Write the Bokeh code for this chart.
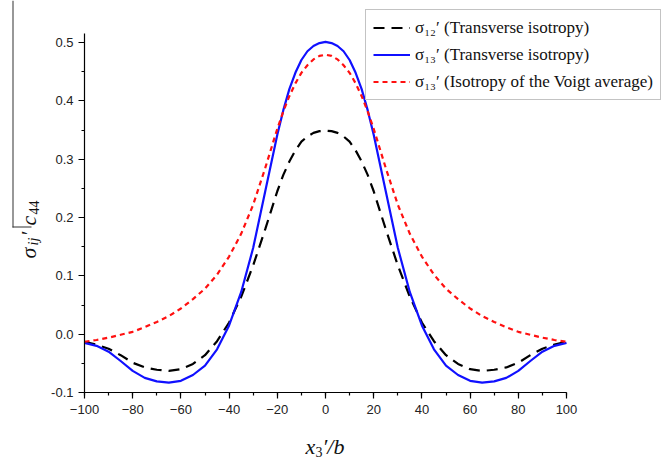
import math
from bokeh.plotting import figure
from bokeh.models import (Range1d, SingleIntervalTicker, PrintfTickFormatter,
                          Legend, LegendItem, Label, BoxAnnotation)
from bokeh.embed import file_html
from bokeh.resources import INLINE

# ---------------- data ----------------
x_vals = [-100, -95, -90, -85, -80, -75, -70, -65, -60, -55, -50, -45, -40, -35, -30,
          -25, -20, -17.5, -15, -12.5, -10, -7.5, -5, -2.5, 0, 2.5, 5, 7.5, 10, 12.5,
          15, 17.5, 20, 25, 30, 35, 40, 45, 50, 55, 60, 65, 70, 75, 80, 85, 90, 95, 100]

sigma12_ti = [-0.013, -0.018, -0.025, -0.036, -0.049, -0.057, -0.061, -0.063, -0.060,
              -0.051, -0.036, -0.012, 0.020, 0.064, 0.118, 0.180, 0.245,
              0.273, 0.296, 0.315, 0.330, 0.339, 0.345, 0.348, 0.349, 0.348, 0.345,
              0.339, 0.330, 0.315, 0.296, 0.273,
              0.245, 0.180, 0.118, 0.064, 0.020, -0.012, -0.036, -0.051, -0.060,
              -0.063, -0.061, -0.057, -0.049, -0.036, -0.025, -0.018, -0.013]

sigma13_ti = [-0.015, -0.020, -0.030, -0.046, -0.063, -0.075, -0.081, -0.083, -0.080,
              -0.070, -0.054, -0.026, 0.015, 0.072, 0.148, 0.245, 0.342,
              0.384, 0.420, 0.448, 0.470, 0.485, 0.494, 0.499, 0.501, 0.499, 0.494,
              0.485, 0.470, 0.448, 0.420, 0.384,
              0.342, 0.245, 0.148, 0.072, 0.015, -0.026, -0.054, -0.070, -0.080,
              -0.083, -0.081, -0.075, -0.063, -0.046, -0.030, -0.020, -0.015]

sigma13_voigt = [-0.013, -0.010, -0.006, -0.001, 0.004, 0.012, 0.021, 0.031, 0.044,
                 0.060, 0.078, 0.102, 0.133, 0.172, 0.222, 0.285, 0.352,
                 0.382, 0.408, 0.430, 0.448, 0.461, 0.471, 0.477, 0.479, 0.477, 0.471,
                 0.461, 0.448, 0.430, 0.408, 0.382,
                 0.352, 0.285, 0.222, 0.172, 0.133, 0.102, 0.078, 0.060, 0.044,
                 0.031, 0.021, 0.012, 0.004, -0.001, -0.006, -0.010, -0.013]

legend_labels = ["σ₁₂′ (Transverse isotropy)",
                 "σ₁₃′ (Transverse isotropy)",
                 "σ₁₃′ (Isotropy of the Voigt average)"]

# ---------------- layout geometry (canvas pixels) ----------------
W, H = 665, 458
X_LEFT_PX, X_RIGHT_PX = 84, 566      # where x = -100 and x = 100 fall
Y_BOT_PX, Y_TOP_PX = 392, 42         # where y = -0.1 and y = 0.5 fall
sx = (X_RIGHT_PX - X_LEFT_PX) / 200.0
sy = (Y_BOT_PX - Y_TOP_PX) / 0.6
x_start = -100 - X_LEFT_PX / sx
x_end = 100 + (W - X_RIGHT_PX) / sx
y_start = -0.1 - (H - Y_BOT_PX) / sy
y_end = 0.5 + Y_TOP_PX / sy

p = figure(width=W, height=H, output_backend="svg", toolbar_location=None,
           x_range=Range1d(x_start, x_end), y_range=Range1d(y_start, y_end),
           min_border=0, min_border_left=0, min_border_right=0,
           min_border_top=0, min_border_bottom=0)
p.outline_line_color = None
p.xgrid.visible = False
p.ygrid.visible = False
p.background_fill_color = "white"
p.border_fill_color = "white"

for ax in (p.xaxis[0], p.yaxis[0]):
    ax.axis_line_color = "black"
    ax.axis_line_width = 1.2
    ax.major_tick_line_color = "black"
    ax.minor_tick_line_color = "black"
    ax.major_tick_line_width = 1.2
    ax.minor_tick_line_width = 1.2
    ax.major_tick_in = 0
    ax.major_tick_out = 6
    ax.minor_tick_in = 0
    ax.minor_tick_out = 3
    ax.major_label_text_font = "Liberation Sans"
    ax.major_label_text_font_size = "13px"
    ax.major_label_text_color = "#222222"

p.xaxis[0].ticker = SingleIntervalTicker(interval=20, num_minor_ticks=2)
p.yaxis[0].ticker = SingleIntervalTicker(interval=0.1, num_minor_ticks=2)
p.yaxis[0].formatter = PrintfTickFormatter(format="%.1f")
p.xaxis[0].fixed_location = -0.1
p.yaxis[0].fixed_location = -100
p.xaxis[0].bounds = (-100, 100)
p.yaxis[0].bounds = (-0.1, 0.515)
p.xaxis[0].major_label_standoff = 6
p.yaxis[0].major_label_standoff = 5

r1 = p.line(x_vals, sigma12_ti, line_color="black", line_width=2.2, line_dash="11 7")
r2 = p.line(x_vals, sigma13_ti, line_color="#1010ff", line_width=2.2)
r3 = p.line(x_vals, sigma13_voigt, line_color="#ff1010", line_width=2.2, line_dash="5 4")

legend = Legend(items=[LegendItem(label=legend_labels[0], renderers=[r1]),
                       LegendItem(label=legend_labels[1], renderers=[r2]),
                       LegendItem(label=legend_labels[2], renderers=[r3])],
                location=(365, H - 100))
legend.label_text_font = "Liberation Serif"
legend.label_text_font_size = "17px"
legend.label_text_color = "#111111"
legend.glyph_width = 37
legend.glyph_height = 21
legend.label_height = 21
legend.label_standoff = 5
legend.spacing = 6
legend.padding = 7
legend.margin = 0
legend.border_line_color = "#888888"
legend.border_line_width = 1
legend.background_fill_color = "white"
legend.background_fill_alpha = 1.0
p.add_layout(legend, "center")


def lab(text, cx, cy, size="22px", angle=0.0, style="italic"):
    """Label positioned by canvas pixel (cx, cy = baseline)."""
    p.add_layout(Label(x=cx, y=H - cy, x_units="screen", y_units="screen",
                       text=text, angle=angle, text_font="Liberation Serif",
                       text_font_style=style, text_font_size=size,
                       text_color="#111111", text_align="left",
                       text_baseline="alphabetic"))

# x axis label: x3'/b
lab("x", 305, 446)
lab("3", 315, 451, size="14px", style="normal")
lab("′/b", 322, 446)

# y axis label: sigma_ij'/c_44 (rotated)
A = math.pi / 2
lab("σ", 28, 258, angle=A)
lab("ij", 33, 245, size="14px", angle=A)
lab("′", 28, 236, angle=A)
lab("c", 28, 225, angle=A)
lab("44", 33, 214, size="14px", angle=A, style="normal")

# thin bracket-like line left of the y label (as in the reference)
p.add_layout(BoxAnnotation(left=12, right=13, top=H, bottom=H - 227,
                           left_units="screen", right_units="screen",
                           top_units="screen", bottom_units="screen",
                           fill_color="#333333", fill_alpha=1.0, line_color=None))
p.add_layout(BoxAnnotation(left=12, right=31, top=H - 226, bottom=H - 227,
                           left_units="screen", right_units="screen",
                           top_units="screen", bottom_units="screen",
                           fill_color="#333333", fill_alpha=1.0, line_color=None))

open("out.html", "w").write(file_html(p, INLINE))
